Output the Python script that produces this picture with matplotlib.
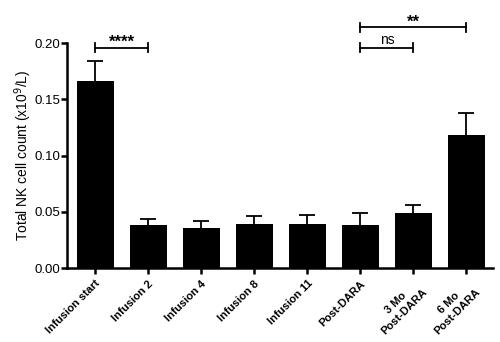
import matplotlib
matplotlib.use("Agg")
import matplotlib.pyplot as plt

plt.rcParams['font.family'] = ['Liberation Sans', 'DejaVu Sans']

labels = ['Infusion start', 'Infusion 2', 'Infusion 4', 'Infusion 8', 'Infusion 11',
          'Post-DARA', '3 Mo\nPost-DARA', '6 Mo\nPost-DARA']
means = [0.166, 0.038, 0.036, 0.039, 0.039, 0.038, 0.049, 0.118]
sem = [0.018, 0.0056, 0.006, 0.007, 0.008, 0.0106, 0.0067, 0.020]

# significance brackets: (start bar, end bar, y, text)
brackets = [(0, 1, 0.196, '****'), (5, 6, 0.196, 'ns'), (5, 7, 0.214, '**')]

fig = plt.figure(figsize=(5, 3.42), dpi=100)
ax = fig.add_axes([0.134, 0.216, 0.852, 0.658])

x = range(len(labels))
ax.bar(x, means, width=0.7, color='black', zorder=2)
ax.errorbar(x, means, yerr=sem, fmt='none', ecolor='black',
            elinewidth=1.3, capsize=6, capthick=1.3, zorder=1)

for a, b, y, txt in brackets:
    ax.plot([a, b], [y, y], color='black', lw=1.3, clip_on=False)
    for xx in (a, b):
        ax.plot([xx, xx], [y - 0.004, y + 0.004], color='black', lw=1.3, clip_on=False)
    star = '*' in txt
    ax.text((a + b) / 2, y + (-0.002 if star else 0.0005), txt, ha='center', va='bottom',
            fontsize=12 if star else 10, fontweight='bold' if star else 'normal')

ax.set_xlim(-0.53, 7.5)
ax.set_ylim(0, 0.20)
ax.set_yticks([0, 0.05, 0.10, 0.15, 0.20])
ax.set_yticklabels(['0.00', '0.05', '0.10', '0.15', '0.20'], fontsize=9.5)
ax.set_xticks(list(x))
ax.set_xticklabels(labels, rotation=45, ha='right', rotation_mode='anchor',
                   multialignment='center', fontsize=8, fontweight='bold')
ax.set_ylabel('Total NK cell count (x10$^9$/L)', fontsize=10, labelpad=0)

for side in ('top', 'right'):
    ax.spines[side].set_visible(False)
for side in ('left', 'bottom'):
    ax.spines[side].set_linewidth(1.8)
ax.tick_params(width=1.8, length=4, direction='out')
ax.tick_params(axis='y', pad=1)

fig.savefig('out.png', dpi=100)
